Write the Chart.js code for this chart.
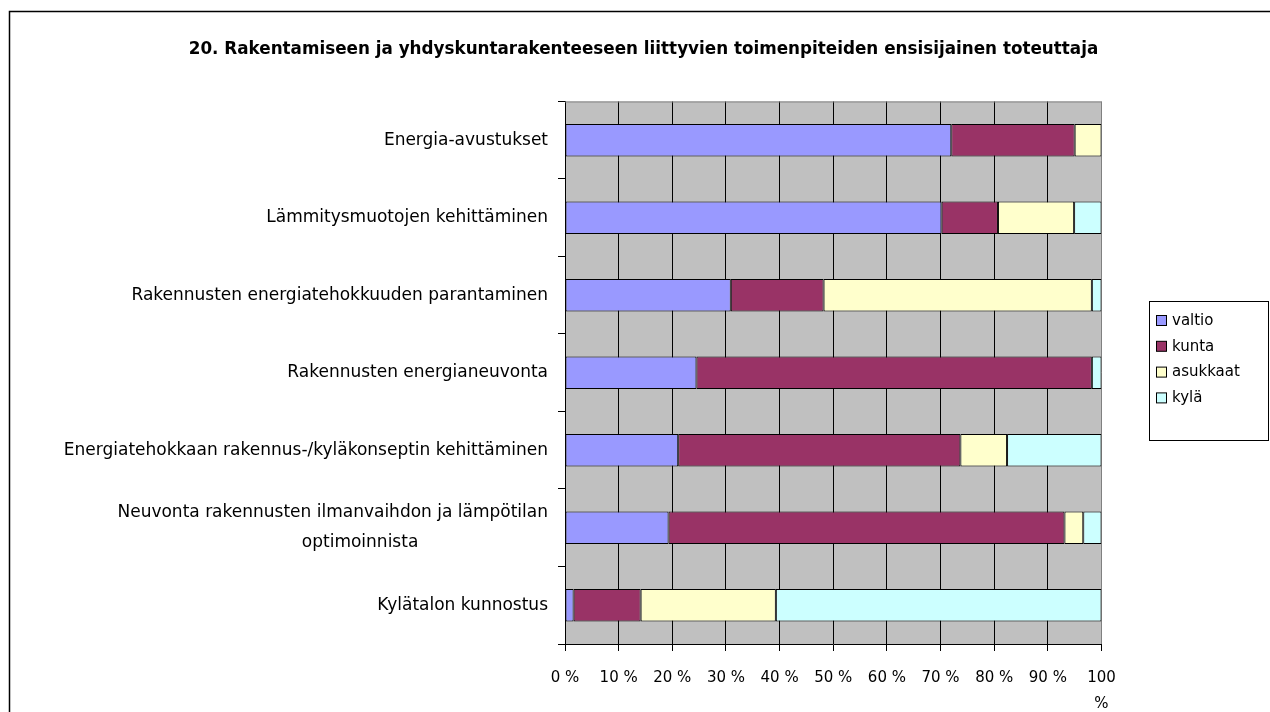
<!DOCTYPE html>
<html>
<head>
<meta charset="utf-8">
<script src="https://cdn.jsdelivr.net/npm/chart.js@4.4.1/dist/chart.umd.min.js"></script>
<style>
  html, body { margin: 0; padding: 0; background: #fff; }
  canvas { display: block; }
</style>
</head>
<body>
<canvas id="chart" width="1270" height="712"></canvas>
<script>
// Categories, top to bottom
const categories = [
    'Energia-avustukset',
    'Lämmitysmuotojen kehittäminen',
    'Rakennusten energiatehokkuuden parantaminen',
    'Rakennusten energianeuvonta',
    'Energiatehokkaan rakennus-/kyläkonseptin kehittäminen',
    ['Neuvonta rakennusten ilmanvaihdon ja lämpötilan', 'optimoinnista                        '],
    'Kylätalon kunnostus'
];

// Shares (%)
const valtio   = [72.0, 70.2, 30.9, 24.5, 21.1, 19.3,  1.6];
const kunta    = [23.0, 10.5, 17.3, 73.7, 52.6, 73.8, 12.5];
const asukkaat = [ 5.0, 14.2, 50.0,  0.0,  8.7,  3.5, 25.2];
const kyla     = [ 0.0,  5.1,  1.8,  1.8, 17.6,  3.4, 60.7];

const seriesNames = ['valtio', 'kunta', 'asukkaat', 'kylä'];
const seriesColors = ['#9999FF', '#993366', '#FFFFCC', '#CCFFFF'];

const xTickLabels = ['0 %', '10 %', '20 %', '30 %', '40 %', '50 %', '60 %', '70 %', '80 %', '90 %', ['100', '%']];

const titleText = '20. Rakentamiseen ja yhdyskuntarakenteeseen liittyvien toimenpiteiden ensisijainen toteuttaja';

const FONT = '"DejaVu Sans", Verdana, sans-serif';

// Grey plot background, grey top edge, outer frame and boxed legend
const frameAndLegend = {
    id: 'frameAndLegend',
    beforeDraw(chart) {
        const { ctx, chartArea: a } = chart;
        ctx.save();
        ctx.fillStyle = '#C0C0C0';
        ctx.fillRect(a.left, a.top, a.right - a.left, a.bottom - a.top);
        ctx.restore();
    },
    afterDraw(chart) {
        const { ctx, chartArea: a } = chart;
        ctx.save();
        // top edge of plot
        ctx.strokeStyle = '#808080';
        ctx.lineWidth = 1;
        ctx.beginPath();
        ctx.moveTo(a.left, a.top + 0.5);
        ctx.lineTo(a.right, a.top + 0.5);
        ctx.stroke();

        // outer frame
        ctx.strokeStyle = '#000';
        ctx.lineWidth = 1.5;
        ctx.strokeRect(9.5, 11.5, 1400, 900);

        // legend
        const lx = 1149.5, ly = 301.5, lw = 119, lh = 139;
        ctx.fillStyle = '#fff';
        ctx.fillRect(lx, ly, lw, lh);
        ctx.lineWidth = 1;
        ctx.strokeRect(lx, ly, lw, lh);
        ctx.font = '15px ' + FONT;
        ctx.textBaseline = 'middle';
        ctx.textAlign = 'left';
        chart.data.datasets.forEach((ds, i) => {
            const cy = 321 + i * 25.8;
            ctx.fillStyle = ds.backgroundColor;
            ctx.fillRect(1156.5, cy - 5.5, 10, 10);
            ctx.strokeStyle = '#000';
            ctx.strokeRect(1156.5, cy - 5.5, 10, 10);
            ctx.fillStyle = '#000';
            ctx.fillText(ds.label, 1172, cy);
        });
        ctx.restore();
    }
};

const seriesData = [valtio, kunta, asukkaat, kyla];
const datasets = seriesNames.map((name, i) => ({
    label: name,
    data: seriesData[i],
    backgroundColor: seriesColors[i],
    borderColor: '#000',
    borderWidth: 1,
    borderSkipped: false,
    categoryPercentage: 1.0,
    barPercentage: 0.42
}));

const chart = new Chart(document.getElementById('chart').getContext('2d'), {
    type: 'bar',
    data: { labels: categories, datasets: datasets },
    options: {
        indexAxis: 'y',
        responsive: false,
        animation: false,
        // negative right padding shifts the full-width title to where it sits in the picture
        layout: { padding: { left: 0, right: -17, top: 0, bottom: 0 } },
        plugins: {
            legend: { display: false },
            tooltip: { enabled: false },
            title: {
                display: true,
                text: titleText,
                color: '#000',
                font: { family: FONT, size: 16.8, weight: 'bold', lineHeight: 1.2 },
                padding: { top: 40, bottom: 41.3 }
            }
        },
        scales: {
            x: {
                stacked: true,
                min: 0,
                max: 100,
                afterFit(scale) {
                    scale.height = 68;
                    scale.paddingLeft = 0;
                    scale.paddingRight = 0;
                },
                ticks: {
                    stepSize: 10,
                    color: '#000',
                    maxRotation: 0,
                    autoSkip: false,
                    padding: 14,
                    font: { family: FONT, size: 15, lineHeight: 1.73 },
                    callback: (value, index) => xTickLabels[index]
                },
                grid: {
                    color: (c) => (c.tick && c.tick.value === 100) ? '#808080' : '#000',
                    tickColor: '#000',
                    tickLength: 7,
                    lineWidth: 1
                },
                border: { display: true, color: '#000', width: 1 }
            },
            y: {
                stacked: true,
                afterFit(scale) {
                    scale.width = 565;
                },
                ticks: {
                    color: '#000',
                    padding: 10,
                    autoSkip: false,
                    font: { family: FONT, size: 17, lineHeight: 1.76 }
                },
                grid: {
                    drawOnChartArea: false,
                    drawTicks: true,
                    tickLength: 7,
                    color: '#000'
                },
                border: { display: true, color: '#000', width: 1 }
            },
            // empty right-hand axis that keeps room for the legend box
            legendSpace: {
                axis: 'y',
                type: 'linear',
                position: 'right',
                afterFit(scale) {
                    scale.width = 1270 + 17 - 1101.5;
                },
                ticks: { display: false },
                grid: { display: false, drawTicks: false },
                border: { display: false }
            }
        }
    },
    plugins: [frameAndLegend]
});
</script>
</body>
</html>
